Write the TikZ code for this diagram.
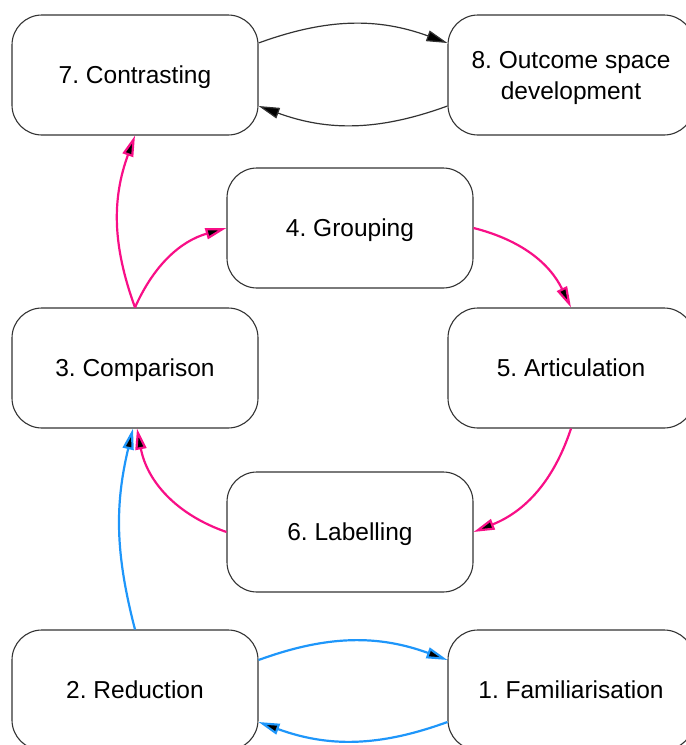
\documentclass[tikz,border=0pt]{standalone}
\usepackage{fontspec}
\setmainfont{Liberation Sans}
\usetikzlibrary{arrows.meta}

\definecolor{pinkline}{RGB}{248,15,135}
\definecolor{blueline}{RGB}{30,150,250}

\begin{document}
\frenchspacing
\begin{tikzpicture}[x=1pt,y=-1pt,
  stage/.style={draw=black!80,line width=1.1pt,rounded corners=30pt,
    minimum width=246pt,minimum height=120pt,align=center,text depth=0pt,
    font=\fontsize{24.5}{31}\selectfont},
  flow/.style={line width=2.2pt,-{Triangle[length=21pt,width=11pt,fill=black]}}]

% Page size, the right and bottom boxes run off the edge.
\useasboundingbox (0,0) rectangle (686,745);
\clip (0,0) rectangle (686,745);

% Columns and rows of the boxes.
\def\colL{135}
\def\colM{350}
\def\colR{571}

% The eight stages.
\node[stage] (contrast) at (\colL,75)  {7. Contrasting};
\node[stage] (outcome)  at (\colR,75)  {8. Outcome space\\development};
\node[stage] (group)    at (\colM,228) {4. Grouping};
\node[stage] (compare)  at (\colL,368) {3. Comparison};
\node[stage] (artic)    at (\colR,368) {5. Articulation};
\node[stage] (label)    at (\colM,532) {6. Labelling};
\node[stage] (reduce)   at (\colL,690) {2. Reduction};
\node[stage] (famil)    at (\colR,690) {1. Familiarisation};

% Familiarisation and reduction loop (blue).
\draw[flow,blueline] ([yshift=30pt]reduce.east) to[bend left=20] ([yshift=30pt]famil.west);
\draw[flow,blueline] ([yshift=-32pt]famil.west) to[bend left=20] ([yshift=-32pt]reduce.east);
\draw[flow,blueline] (reduce.north) to[bend left=14] ([xshift=-2pt]compare.south);

% Comparison cycle (pink).
\draw[flow,pinkline] (compare.north) to[bend left=25] (group.west);
\draw[flow,pinkline] (group.east) to[bend left=25] (artic.north);
\draw[flow,pinkline] (artic.south) to[bend left=25] (label.east);
\draw[flow,pinkline] (label.west) to[bend left=30] ([xshift=2pt]compare.south);
\draw[flow,pinkline] (compare.north) to[bend left=20] (contrast.south);

% Contrasting and outcome space loop (black).
\draw[flow,line width=1.2pt,black!80] ([yshift=32pt]contrast.east) to[bend left=20] ([yshift=32pt]outcome.west);
\draw[flow,line width=1.2pt,black!80] ([yshift=-31pt]outcome.west) to[bend left=20] ([yshift=-31pt]contrast.east);

\end{tikzpicture}
\end{document}
